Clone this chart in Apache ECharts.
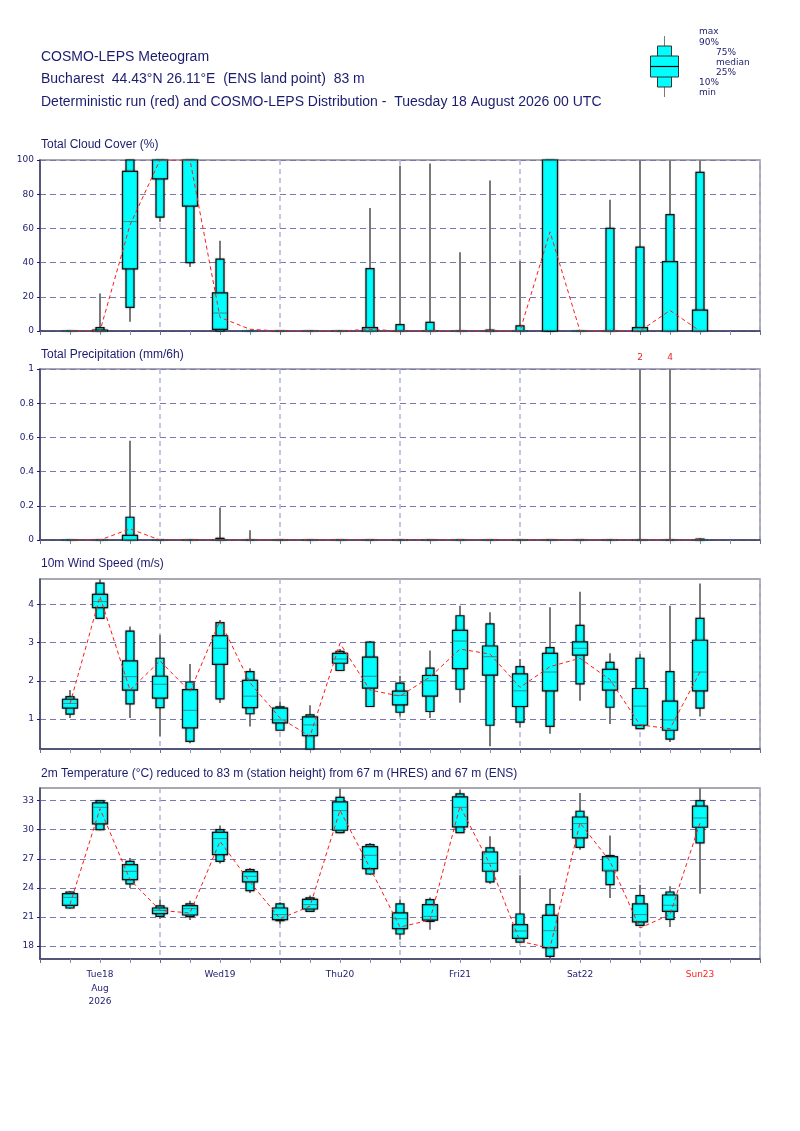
<!DOCTYPE html>
<html lang="en" style="height: 100%">
<head>
    <meta charset="UTF-8">
    <title>COSMO-LEPS Meteogram</title>
    <script src="https://cdn.jsdelivr.net/npm/echarts@6.0.0/dist/echarts.min.js"></script>
</head>
<body style="height: 100%; margin: 0; background: #fff">
<div id="main" style="width: 800px; height: 1131px"></div>
<script>
    // forecast steps (hours after Tue 18 Aug 2026 00 UTC)
    var hours = [6, 12, 18, 24, 30, 36, 42, 48, 54, 60, 66, 72, 78, 84, 90, 96, 102, 108, 114, 120, 126, 132];
    var dayLabels = ['Tue18\nAug\n2026', 'Wed19', 'Thu20', 'Fri21', 'Sat22', 'Sun23'];

    // each box: [min, 10%, 25%, median, 75%, 90%, max]
    var cloudBox = [
        [0, 0, 0, 0, 0, 0, 0], [0, 0, 0, 0, 0.5, 2, 22], [5.4, 13.8, 36.3, 64, 93.3, 100, 100],
        [63.7, 66.6, 89, 100, 100, 100, 100], [37.5, 40, 73, 100, 100, 100, 100], [0, 0, 1, 10.5, 22.3, 42, 52.8],
        [0, 0, 0, 0, 0, 0, 0], [0, 0, 0, 0, 0, 0, 0], [0, 0, 0, 0, 0, 0, 0], [0, 0, 0, 0, 0, 0, 0],
        [0, 0, 0, 0, 2, 36.5, 72], [0, 0, 0, 0, 0, 3.7, 96.7], [0, 0, 0, 0, 0, 5, 98],
        [0, 0, 0, 0, 0, 0, 46], [0, 0, 0, 0, 0, 0.5, 88], [0, 0, 0, 0, 0, 3, 41],
        [0, 0, 0, 100, 100, 100, 100], [0, 0, 0, 0, 0, 0, 0], [0, 0, 0, 0, 0, 60, 76.7],
        [0, 0, 0, 0, 2, 49, 100], [0, 0, 0, 0, 40.6, 68, 100], [0, 0, 0, 0, 12.2, 92.8, 100]
    ];
    var cloudDet = [0, 0, 62, 100, 100, 8, 1, 0, 0, 0, 1, 0, 0, 0, 0, 0, 58, 0, 0, 0, 12, 0];

    var precBox = [
        [0, 0, 0, 0, 0, 0, 0], [0, 0, 0, 0, 0, 0, 0.005], [0, 0, 0, 0, 0.027, 0.133, 0.58],
        [0, 0, 0, 0, 0, 0, 0], [0, 0, 0, 0, 0, 0, 0], [0, 0, 0, 0, 0, 0.01, 0.19],
        [0, 0, 0, 0, 0, 0, 0.057], [0, 0, 0, 0, 0, 0, 0], [0, 0, 0, 0, 0, 0, 0], [0, 0, 0, 0, 0, 0, 0],
        [0, 0, 0, 0, 0, 0, 0], [0, 0, 0, 0, 0, 0, 0], [0, 0, 0, 0, 0, 0, 0], [0, 0, 0, 0, 0, 0, 0],
        [0, 0, 0, 0, 0, 0, 0], [0, 0, 0, 0, 0, 0, 0], [0, 0, 0, 0, 0, 0, 0], [0, 0, 0, 0, 0, 0, 0],
        [0, 0, 0, 0, 0, 0, 0], [0, 0, 0, 0, 0, 0, 2], [0, 0, 0, 0, 0, 0, 4], [0, 0, 0, 0, 0, 0.005, 0.01]
    ];
    var precDet = [0, 0, 0.065, 0, 0, 0, 0, 0, 0, 0, 0, 0, 0, 0, 0, 0, 0, 0, 0, 0, 0, 0];

    var windBox = [
        [1.03, 1.13, 1.29, 1.41, 1.52, 1.59, 1.76], [3.63, 3.63, 3.91, 4.07, 4.26, 4.55, 4.66],
        [1.03, 1.40, 1.76, 2.11, 2.52, 3.30, 3.42], [0.55, 1.30, 1.55, 1.91, 2.12, 2.59, 3.2],
        [0.37, 0.42, 0.77, 1.23, 1.77, 1.97, 2.44], [1.42, 1.53, 2.43, 2.85, 3.18, 3.52, 3.59],
        [0.81, 1.14, 1.30, 1.6, 2.01, 2.24, 2.33], [0.71, 0.71, 0.90, 0.98, 1.29, 1.32, 1.46],
        [0.1, 0.2, 0.57, 0.85, 1.06, 1.11, 1.36], [2.27, 2.27, 2.46, 2.57, 2.72, 2.77, 2.83],
        [1.33, 1.33, 1.81, 2.12, 2.62, 3.01, 3.04], [1.07, 1.18, 1.37, 1.62, 1.73, 1.94, 2.13],
        [1.03, 1.20, 1.6, 2.0, 2.14, 2.33, 2.79], [1.43, 1.78, 2.32, 3.04, 3.32, 3.70, 3.96],
        [0.29, 0.84, 2.15, 2.63, 2.91, 3.49, 3.79], [0.79, 0.92, 1.33, 1.74, 2.18, 2.37, 2.57],
        [0.62, 0.81, 1.74, 2.23, 2.72, 2.87, 3.92], [1.48, 1.92, 2.67, 2.85, 3.02, 3.45, 4.33],
        [0.87, 1.31, 1.76, 1.97, 2.30, 2.48, 2.72], [0.75, 0.75, 0.84, 1.34, 1.80, 2.59, 2.70],
        [0.40, 0.48, 0.71, 0.98, 1.47, 2.24, 3.96], [1.07, 1.29, 1.74, 2.23, 3.06, 3.63, 4.54]
    ];
    var windDet = [1.4, 4.2, 1.76, 2.52, 1.72, 3.57, 1.95, 1.03, 0.55, 2.98, 1.76, 1.6, 2.1, 2.83, 2.70, 1.83, 2.37, 2.59, 2.03, 0.85, 0.75, 2.23];
    var windTicks = [1, 2, 3, 4];

    var tempBox = [
        [21.85, 21.92, 22.20, 23.02, 23.40, 23.57, 23.64], [29.94, 30.0, 30.59, 32.31, 32.76, 33.0, 33.07],
        [23.99, 24.40, 24.85, 25.71, 26.40, 26.74, 27.08], [20.82, 21.06, 21.34, 21.68, 21.92, 22.13, 22.78],
        [20.68, 21.03, 21.2, 21.85, 22.16, 22.34, 22.68], [26.5, 26.74, 27.43, 29.08, 29.73, 30.0, 30.42],
        [23.47, 23.71, 24.61, 25.19, 25.67, 25.88, 26.05], [20.27, 20.62, 20.72, 21.24, 21.92, 22.34, 22.51],
        [21.51, 21.58, 21.82, 22.27, 22.82, 22.96, 23.2], [29.63, 29.7, 29.94, 31.97, 32.86, 33.34, 34.24],
        [25.36, 25.43, 25.98, 27.36, 28.25, 28.46, 28.63], [18.65, 19.24, 19.79, 20.82, 21.41, 22.34, 22.78],
        [19.69, 20.55, 20.68, 21.06, 22.27, 22.78, 23.0], [29.70, 29.70, 30.28, 32.31, 33.38, 33.69, 34.14],
        [24.43, 24.61, 25.71, 26.53, 27.7, 28.12, 29.32], [18.41, 18.41, 18.79, 19.55, 20.2, 21.3, 25.29],
        [16.76, 16.94, 17.83, 19.58, 21.17, 22.27, 23.92], [27.94, 28.18, 29.15, 30.63, 31.31, 31.9, 33.79],
        [22.96, 24.33, 25.78, 25.81, 27.22, 27.32, 29.39], [20.13, 20.13, 20.48, 21.24, 22.34, 23.2, 24.33],
        [19.96, 20.75, 21.58, 22.2, 23.26, 23.57, 24.16], [23.4, 28.63, 30.25, 31.21, 32.42, 33.0, 34.3]
    ];
    var tempDet = [22.3, 32.17, 24.85, 21.68, 21.4, 28.8, 24.6, 20.82, 22.1, 32.0, 26.05, 19.96, 20.68, 32.42, 26.4, 18.48, 17.8, 30.7, 26.74, 19.86, 21.24, 30.7];
    var tempTicks = [18, 21, 24, 27, 30, 33];

    var navy = '#1c1c6e';
    var font = 'Liberation Sans';

    function boxData(box) {
        return hours.map(function (h, i) { return [h].concat(box[i]); });
    }
    function detData(det) {
        return hours.map(function (h, i) { return [h, det[i]]; });
    }

    // nested ensemble box: whisker min-max, narrow 10-90, wide 25-75, median
    // values above the axis top are written in red over the panel (precip only)
    function makeRender(axisMax) {
        return function (params, api) {
            var cs = params.coordSys;
            var top = cs.y, bot = cs.y + cs.height;
            var x = api.coord([api.value(0), 0])[0];
            function py(i) {
                var y = api.coord([api.value(0), api.value(i)])[1];
                return Math.max(top, Math.min(bot, y));
            }
            var yMin = py(1), y10 = py(2), y25 = py(3), yMed = py(4), y75 = py(5), y90 = py(6), yMax = py(7);
            var kids = [
                {type: 'line', shape: {x1: x, y1: yMax, x2: x, y2: yMin}, style: {stroke: '#7a7a7a', lineWidth: 2}},
                {type: 'rect', shape: {x: x - 4, y: y90, width: 8, height: y10 - y90},
                    style: {fill: '#00ffff', stroke: '#111', lineWidth: 1.2, shadowBlur: 2, shadowColor: 'rgba(0,0,0,0.35)'}},
                {type: 'rect', shape: {x: x - 7.5, y: y75, width: 15, height: y25 - y75},
                    style: {fill: '#00ffff', stroke: '#111', lineWidth: 1.2, shadowBlur: 2, shadowColor: 'rgba(0,0,0,0.35)'}},
                {type: 'line', shape: {x1: x - 7, y1: yMed, x2: x + 7, y2: yMed}, style: {stroke: '#2a8c8c', lineWidth: 1}}
            ];
            if (axisMax != null && api.value(7) > axisMax) {
                kids.push({type: 'text', style: {text: String(api.value(7)), x: x, y: top - 7, fill: '#ee2222',
                    align: 'center', verticalAlign: 'bottom', font: '9px DejaVu Sans'}});
            }
            return {type: 'group', children: kids};
        };
    }

    var grids = [
        {left: 40, right: 40, top: 160, height: 171},
        {left: 40, right: 40, top: 369, height: 171},
        {left: 40, right: 40, top: 579, height: 170},
        {left: 40, right: 40, top: 788, height: 171}
    ];
    grids.forEach(function (g) { g.show = true; g.borderColor = '#8c8c96'; g.borderWidth = 1.5; });

    function timeAxis(i) {
        return {
            type: 'value', gridIndex: i, min: 0, max: 144, interval: 24,
            axisLine: {show: true, onZero: false, lineStyle: {color: '#3a3a66', width: 1.5}},
            axisTick: {show: true, length: 4, lineStyle: {color: '#6a6aa0'}},
            minorTick: {show: true, splitNumber: 4, length: 4, lineStyle: {color: '#8a8ac0'}},
            axisLabel: {show: false},
            splitLine: {show: true, lineStyle: {color: '#b4b4d8', type: [5, 4], width: 1.5}}
        };
    }
    function valueAxis(i, min, max, interval, ticks) {
        var a = {
            type: 'value', gridIndex: i, min: min, max: max,
            axisLine: {show: true, lineStyle: {color: '#3a3a66', width: 1.5}},
            axisTick: {show: true, length: 3, lineStyle: {color: navy}},
            axisLabel: {color: navy, fontSize: 9, fontFamily: 'DejaVu Sans', margin: 6},
            splitLine: {show: true, lineStyle: {color: '#7878b4', type: [6, 4]}}
        };
        if (interval) a.interval = interval;
        if (ticks) {
            a.axisTick.customValues = ticks;
            a.axisLabel.customValues = ticks;
        }
        return a;
    }

    var xAxes = [timeAxis(0), timeAxis(1), timeAxis(2), timeAxis(3), {
        type: 'category', gridIndex: 3, data: dayLabels, boundaryGap: true, position: 'bottom',
        axisLine: {show: false}, axisTick: {show: false}, splitLine: {show: false},
        axisLabel: {
            margin: 9, fontSize: 9, fontFamily: 'DejaVu Sans', lineHeight: 13.5, interval: 0,
            color: function (v) { return v.indexOf('Sun') === 0 ? '#ff2020' : navy; }
        }
    }];
    var yAxes = [
        valueAxis(0, 0, 100, 20),
        valueAxis(1, 0, 1, 0.2),
        valueAxis(2, 0.22, 4.66, null, windTicks),
        valueAxis(3, 16.66, 34.3, null, tempTicks)
    ];

    var panels = [
        {box: cloudBox, det: cloudDet, over: null},
        {box: precBox, det: precDet, over: 1},
        {box: windBox, det: windDet, over: null},
        {box: tempBox, det: tempDet, over: null}
    ];
    var series = [];
    panels.forEach(function (p, i) {
        series.push({
            type: 'custom', xAxisIndex: i, yAxisIndex: i, z: 3,
            renderItem: makeRender(p.over), data: boxData(p.box),
            encode: {x: 0, y: [1, 7]}, silent: true
        });
        series.push({
            type: 'line', xAxisIndex: i, yAxisIndex: i, z: 4, data: detData(p.det),
            showSymbol: false, symbol: 'none', silent: true,
            lineStyle: {color: '#ff1a1a', width: 1, type: [4, 3]}
        });
    });

    function titleText(text, top, size) {
        return {text: text, left: 41, top: top, padding: 0,
            textStyle: {color: navy, fontSize: size, fontWeight: 'normal', fontFamily: font}};
    }

    var legendLabels = [
        ['max', 699, 32], ['90%', 699, 42.5], ['75%', 716, 52.5], ['median', 716, 62.5],
        ['25%', 716, 72.5], ['10%', 699, 83], ['min', 699, 93]
    ];
    var graphics = [
        {type: 'line', shape: {x1: 664.5, y1: 36, x2: 664.5, y2: 97}, style: {stroke: '#7a7a7a', lineWidth: 1}},
        {type: 'rect', shape: {x: 657.5, y: 46, width: 14, height: 41}, style: {fill: '#00ffff', stroke: '#333', lineWidth: 1}},
        {type: 'rect', shape: {x: 650.5, y: 56, width: 28, height: 21}, style: {fill: '#00ffff', stroke: '#333', lineWidth: 1}},
        {type: 'line', shape: {x1: 650.5, y1: 66.5, x2: 678.5, y2: 66.5}, style: {stroke: '#000', lineWidth: 1.2}}
    ];
    legendLabels.forEach(function (l) {
        graphics.push({type: 'text', x: l[1], y: l[2],
            style: {text: l[0], fill: navy, font: '9px DejaVu Sans', verticalAlign: 'middle'}});
    });

    var option = {
        backgroundColor: '#ffffff',
        animation: false,
        title: [
            titleText('COSMO-LEPS Meteogram', 50, 14),
            titleText('Bucharest  44.43\u00b0N 26.11\u00b0E  (ENS land point)  83 m', 72, 14),
            titleText('Deterministic run (red) and COSMO-LEPS Distribution -  Tuesday 18 August 2026 00 UTC', 95, 14),
            titleText('Total Cloud Cover (%)', 139, 12),
            titleText('Total Precipitation (mm/6h)', 349, 12),
            titleText('10m Wind Speed (m/s)', 558, 12),
            titleText('2m Temperature (\u00b0C) reduced to 83 m (station height) from 67 m (HRES) and 67 m (ENS)', 768, 12)
        ],
        grid: grids,
        xAxis: xAxes,
        yAxis: yAxes,
        series: series,
        graphic: graphics
    };

    var myChart = echarts.init(document.getElementById('main'));
    myChart.setOption(option);
</script>
</body>
</html>
